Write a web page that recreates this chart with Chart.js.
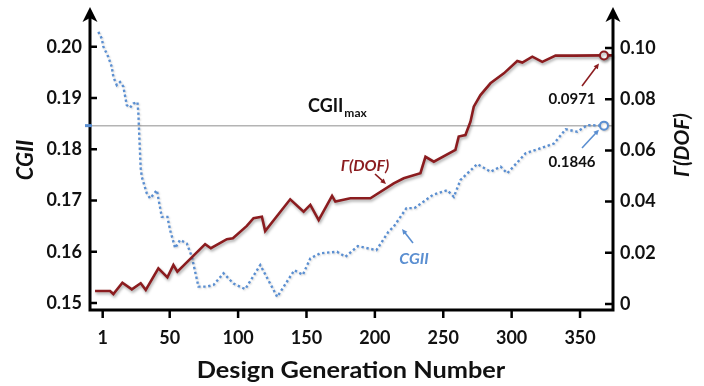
<!DOCTYPE html>
<html>
<head>
<meta charset="utf-8">
<script src="https://cdn.jsdelivr.net/npm/chart.js@4/dist/chart.umd.min.js"></script>
<style>
  html, body { margin: 0; padding: 0; background: #ffffff; }
  canvas { display: block; }
</style>
</head>
<body>
<canvas id="c" width="704" height="386"></canvas>
<script>
// ---- data ----
const dofGeneration = [-4.6, 6.4, 8.8, 15.4, 22.3, 28.8, 32.5, 41.7, 48.3, 52.7, 55.6, 75.9, 80.1, 91.8, 96.2, 106.4, 111.3, 117.4, 119.8, 138.1, 147.9, 152.8, 158.9, 168.7, 171.1, 182.1, 196.7, 213.8, 221.1, 233.3, 237, 243.1, 258.9, 261.3, 266.2, 269.9, 272.3, 277.2, 284.5, 294.3, 304.1, 307.8, 315.1, 322.4, 332.1, 345.5, 367.5, 374];
const dofValues = [0.0051, 0.0051, 0.0039, 0.0083, 0.0057, 0.0081, 0.0055, 0.0139, 0.0104, 0.0152, 0.0126, 0.0234, 0.0218, 0.0253, 0.0257, 0.0305, 0.0335, 0.0341, 0.0285, 0.0409, 0.0361, 0.0387, 0.0328, 0.0422, 0.0400, 0.0413, 0.0413, 0.0471, 0.0491, 0.0511, 0.0575, 0.0556, 0.0602, 0.0654, 0.0660, 0.0712, 0.0771, 0.0816, 0.0862, 0.0901, 0.0949, 0.0943, 0.0966, 0.0946, 0.0970, 0.0970, 0.0971, 0.0971];
const dofMarkerIndex = 46;

const cgiiGeneration = [-2.2, 0.3, 1.5, 5.1, 7.6, 8.8, 11.3, 13.7, 16.1, 18.6, 21.0, 23.4, 26.4, 27.1, 27.8, 28.8, 29.6, 33.2, 35.7, 40.6, 44.2, 48.3, 50.3, 54.0, 57.6, 62.5, 66.2, 71.0, 77.2, 82.0, 89.3, 96.6, 105.2, 116.2, 128.6, 141.1, 147.3, 152.8, 160.1, 172.3, 178.4, 187.6, 201.1, 209.9, 213.8, 223.1, 228.9, 242.5, 252.9, 257.7, 262.6, 274.8, 284.6, 291.9, 296.8, 310.2, 321.2, 330.9, 339.5, 348.0, 355.3, 367.5];
const cgiiValues = [0.2029, 0.2016, 0.2000, 0.1980, 0.1961, 0.1941, 0.1925, 0.1931, 0.1922, 0.1886, 0.1881, 0.1889, 0.1892, 0.1870, 0.1824, 0.1763, 0.1746, 0.1714, 0.1704, 0.1720, 0.1668, 0.1668, 0.1642, 0.1607, 0.1623, 0.1616, 0.1590, 0.1532, 0.1532, 0.1535, 0.1558, 0.1538, 0.1527, 0.1574, 0.1512, 0.1564, 0.1555, 0.1587, 0.1597, 0.1600, 0.1590, 0.1611, 0.1603, 0.1639, 0.1649, 0.1685, 0.1685, 0.1711, 0.1720, 0.1707, 0.1740, 0.1771, 0.1756, 0.1766, 0.1753, 0.1792, 0.1802, 0.1811, 0.1839, 0.1834, 0.1847, 0.1846];

const cgiiMax = 0.1846;
const dofFinal = 0.0971;

const xTickValues = [1, 50, 100, 150, 200, 250, 300, 350];
const cgiiTickValues = [0.15, 0.16, 0.17, 0.18, 0.19, 0.20];
const dofTickValues = [0, 0.02, 0.04, 0.06, 0.08, 0.10];

const xTitle = 'Design Generation Number';
const leftTitle = 'CGII';
const rightTitle = 'Γ(DOF)';

// ---- styles ----
const RED = '#8b1c1f';
const BLUE = '#5b8fd1';
const FONT = 'Lato, "Open Sans", sans-serif';

const dofPoints = dofGeneration.map((g, i) => ({ x: g, y: dofValues[i] }));
const cgiiPoints = cgiiGeneration.map((g, i) => ({ x: g, y: cgiiValues[i] }));

function arrow(ctx, x1, y1, x2, y2, color) {
  ctx.save();
  ctx.strokeStyle = color; ctx.fillStyle = color; ctx.lineWidth = 1.6;
  const a = Math.atan2(y2 - y1, x2 - x1);
  const hl = 6;
  ctx.beginPath(); ctx.moveTo(x1, y1);
  ctx.lineTo(x2 - Math.cos(a) * hl * 0.7, y2 - Math.sin(a) * hl * 0.7); ctx.stroke();
  ctx.beginPath(); ctx.moveTo(x2, y2);
  ctx.lineTo(x2 - hl * Math.cos(a - 0.45), y2 - hl * Math.sin(a - 0.45));
  ctx.lineTo(x2 - hl * Math.cos(a + 0.45), y2 - hl * Math.sin(a + 0.45));
  ctx.closePath(); ctx.fill();
  ctx.restore();
}

function axisArrow(ctx, x, yTip) {
  ctx.beginPath();
  ctx.moveTo(x, yTip);
  ctx.lineTo(x - 7.5, yTip + 15);
  ctx.lineTo(x, yTip + 11);
  ctx.lineTo(x + 7.5, yTip + 15);
  ctx.closePath();
  ctx.fill();
}

const shadowPlugin = {
  id: 'shadow',
  beforeDatasetDraw(chart, args) {
    const ctx = chart.ctx;
    ctx.save();
    if (args.index === 0) {
      ctx.shadowColor = 'rgba(0,0,0,0.35)';
      ctx.shadowBlur = 3; ctx.shadowOffsetX = 1; ctx.shadowOffsetY = 2;
    } else {
      ctx.shadowColor = 'rgba(0,0,0,0.18)';
      ctx.shadowBlur = 2; ctx.shadowOffsetX = 1; ctx.shadowOffsetY = 1;
    }
  },
  afterDatasetDraw(chart) { chart.ctx.restore(); }
};

const decorPlugin = {
  id: 'decor',
  beforeDatasetsDraw(chart) {
    const { ctx, chartArea: a, scales } = chart;
    const y = scales.y.getPixelForValue(cgiiMax);
    ctx.save();
    ctx.strokeStyle = '#b4b4b4'; ctx.lineWidth = 1.5;
    ctx.beginPath(); ctx.moveTo(a.left, y); ctx.lineTo(a.right, y); ctx.stroke();
    ctx.restore();
  },
  afterDraw(chart) {
    const { ctx, chartArea: a, scales } = chart;
    const sx = scales.x, sy = scales.y, sy2 = scales.y2;
    ctx.save();
    // axes
    ctx.strokeStyle = '#000'; ctx.fillStyle = '#000'; ctx.lineWidth = 3; ctx.lineCap = 'butt';
    ctx.beginPath();
    ctx.moveTo(a.left, a.bottom + 1.5); ctx.lineTo(a.left, a.top + 2);
    ctx.moveTo(a.right, a.bottom + 1.5); ctx.lineTo(a.right, a.top + 2);
    ctx.moveTo(a.left - 1.5, a.bottom); ctx.lineTo(a.right + 1.5, a.bottom);
    ctx.stroke();
    axisArrow(ctx, a.left, a.top - 3);
    axisArrow(ctx, a.right, a.top - 3);
    // ticks
    ctx.lineWidth = 2.5;
    ctx.beginPath();
    xTickValues.forEach(v => { const px = sx.getPixelForValue(v); ctx.moveTo(px, a.bottom); ctx.lineTo(px, a.bottom + 8); });
    cgiiTickValues.forEach(v => { const py = sy.getPixelForValue(v); ctx.moveTo(a.left, py); ctx.lineTo(a.left + 7, py); });
    dofTickValues.forEach(v => { const py = sy2.getPixelForValue(v); ctx.moveTo(a.right - 8, py); ctx.lineTo(a.right, py); });
    ctx.stroke();
    // blue marker of CGII max on left axis
    const yMax = sy.getPixelForValue(cgiiMax);
    ctx.strokeStyle = BLUE; ctx.lineWidth = 3;
    ctx.beginPath(); ctx.moveTo(a.left - 5, yMax); ctx.lineTo(a.left + 2, yMax); ctx.stroke();

    // axis titles
    ctx.fillStyle = '#111';
    ctx.textAlign = 'center'; ctx.textBaseline = 'alphabetic';
    ctx.save();
    ctx.translate(351, 378); ctx.scale(1.15, 1);
    ctx.font = `bold 22px ${FONT}`;
    ctx.fillText(xTitle, 0, 0);
    ctx.restore();
    ctx.save();
    ctx.translate(33, 160); ctx.rotate(-Math.PI / 2);
    ctx.font = `italic bold 22px ${FONT}`;
    ctx.fillText(leftTitle, 0, 0);
    ctx.restore();
    ctx.save();
    ctx.translate(689, 145); ctx.rotate(-Math.PI / 2);
    ctx.font = `italic bold 21px ${FONT}`;
    ctx.fillText(rightTitle, 0, 0);
    ctx.restore();

    // annotations
    ctx.textAlign = 'left';
    ctx.font = `bold 18px ${FONT}`;
    ctx.fillStyle = '#111';
    ctx.fillText('CGII', 308, 112);
    const w = ctx.measureText('CGII').width;
    ctx.font = `bold 12px ${FONT}`;
    ctx.fillText('max', 308 + w + 1, 117);

    ctx.textAlign = 'center';
    ctx.font = `italic bold 16px ${FONT}`;
    ctx.fillStyle = RED;
    ctx.fillText('Γ(DOF)', 365, 171);
    arrow(ctx, 375, 174, 386, 184, RED);
    ctx.fillStyle = BLUE;
    ctx.fillText('CGII', 414, 264);
    arrow(ctx, 413, 243, 402, 229, BLUE);

    const ex = sx.getPixelForValue(dofGeneration[dofMarkerIndex]);
    ctx.fillStyle = '#111';
    ctx.font = `bold 15px ${FONT}`;
    ctx.fillText('0.0971', 572, 104);
    ctx.fillText('0.1846', 572, 167);
    arrow(ctx, 582, 86, ex - 5, sy2.getPixelForValue(dofFinal) + 8, RED);
    arrow(ctx, 582, 148, ex - 5, sy.getPixelForValue(cgiiMax) + 4, BLUE);
    ctx.restore();
  }
};

const tickFont = { family: FONT, size: 18, weight: 'bold' };
const noVPad = s => { s.paddingTop = 0; s.paddingBottom = 0; };

new Chart(document.getElementById('c'), {
  type: 'line',
  data: {
    datasets: [
      {
        label: 'Γ(DOF)', data: dofPoints, yAxisID: 'y2',
        borderColor: RED, borderWidth: 2.6, tension: 0, clip: false,
        pointRadius: ctx => ctx.dataIndex === dofMarkerIndex ? 4 : 0,
        pointBorderColor: RED, pointBackgroundColor: '#fff', pointBorderWidth: 2
      },
      {
        label: 'CGII', data: cgiiPoints, yAxisID: 'y',
        borderColor: BLUE, borderWidth: 2.4, borderDash: [2.4, 2.6], tension: 0, clip: false,
        pointRadius: ctx => ctx.dataIndex === cgiiPoints.length - 1 ? 4 : 0,
        pointBorderColor: BLUE, pointBackgroundColor: '#fff', pointBorderWidth: 2
      }
    ]
  },
  options: {
    responsive: false, animation: false, devicePixelRatio: 1,
    layout: { padding: { top: 10, left: 0, right: 0, bottom: 0 } },
    plugins: { legend: { display: false }, tooltip: { enabled: false } },
    scales: {
      x: {
        type: 'linear', min: -8.28, max: 374.1,
        afterBuildTicks: s => { s.ticks = xTickValues.map(v => ({ value: v })); },
        afterFit: s => { s.height = 76; s.paddingLeft = 0; s.paddingRight = 0; },
        grid: { display: false, drawTicks: false }, border: { display: false },
        ticks: { font: tickFont, color: '#111', padding: 17, maxRotation: 0, autoSkip: false }
      },
      y: {
        position: 'left', min: 0.14863, max: 0.20716,
        afterBuildTicks: s => { s.ticks = cgiiTickValues.map(v => ({ value: v })); },
        afterFit: s => { s.width = 90; noVPad(s); },
        grid: { display: false, drawTicks: false }, border: { display: false },
        ticks: { font: tickFont, color: '#111', padding: 8, callback: v => v.toFixed(2) }
      },
      y2: {
        position: 'right', min: -0.00234, max: 0.11484,
        afterBuildTicks: s => { s.ticks = dofTickValues.map(v => ({ value: v })); },
        afterFit: s => { s.width = 91; noVPad(s); },
        grid: { display: false, drawTicks: false }, border: { display: false },
        ticks: { font: tickFont, color: '#111', padding: 7, callback: v => v === 0 ? '0' : v.toFixed(2) }
      }
    }
  },
  plugins: [shadowPlugin, decorPlugin]
});
</script>
</body>
</html>
